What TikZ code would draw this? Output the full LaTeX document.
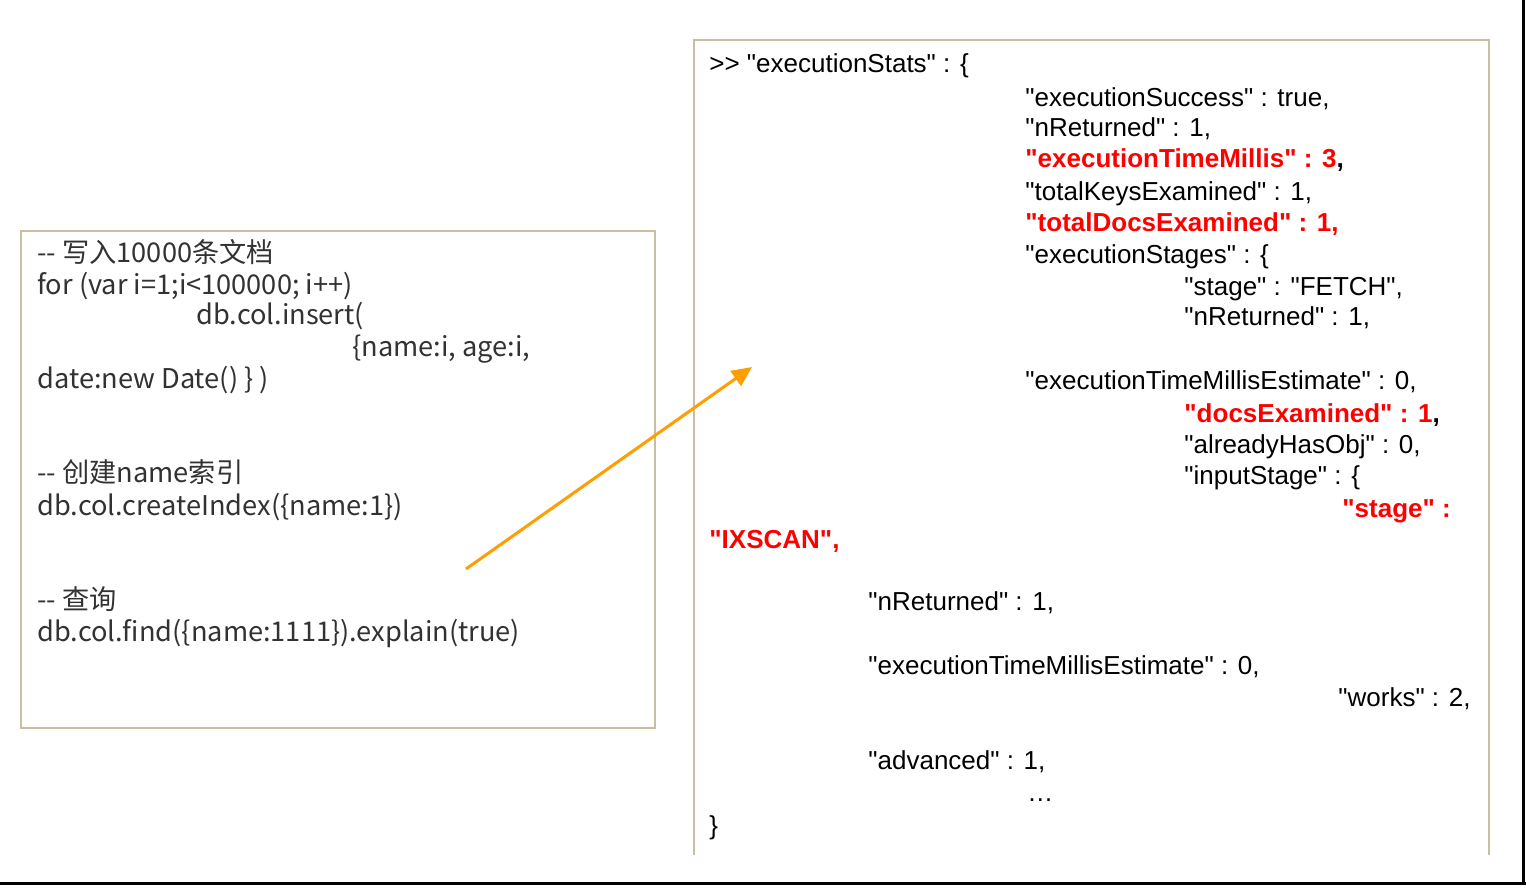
\documentclass[tikz,border=0pt]{standalone}
\usepackage{fontspec}
\newfontfamily\statfont{Liberation Sans}
\newfontfamily\cjkfont{Noto Sans CJK SC}
\usepackage{tikz}
\usetikzlibrary{arrows.meta}
\usetikzlibrary{positioning}
\definecolor{boxline}{RGB}{200,190,160}
\definecolor{codegray}{RGB}{50,50,50}
\definecolor{arroworange}{RGB}{255,158,0}
\definecolor{keyred}{RGB}{255,0,0}
\tikzset{
    codeline/.style={anchor=base west, inner sep=0pt, text=codegray, font=\cjkfont\fontsize{13.6}{15}\selectfont},
    statline/.style={anchor=base west, inner sep=0pt, font=\statfont\fontsize{13}{15}\selectfont},
    statred/.style={anchor=base west, inner sep=0pt, text=keyred, font=\statfont\bfseries\fontsize{13}{15}\selectfont}
}

\begin{document}
\begin{tikzpicture}[x=0.5pt, y=-0.5pt]
    \useasboundingbox (0,0) rectangle (1526,889);
    % frame edges
    \draw[line width=1.5pt] (0,883) -- (1526,883);
    \draw[line width=1.5pt] (1523,0) -- (1523,883);
    % left box: shell commands
    \draw[boxline, line width=1pt] (21,231) rectangle (655,728);
    \node[codeline] (cmtinsert) at (37,262) {-- 写入10000条文档};
    \node[codeline] (forloop) at (37,294) {for (var i=1;i<100000; i++)};
    \node[codeline] (insert) at (196,324) {db.col.insert(};
    \node[codeline] (doc) at (352,356) {\{name:i, age:i,};
    \node[codeline] (date) at (37,388) {date:new Date() \} )};
    \node[codeline] (cmtindex) at (37,482) {-- 创建name索引};
    \node[codeline] (createidx) at (37,515) {db.col.createIndex(\{name:1\})};
    \node[codeline] (cmtquery) at (37,609) {-- 查询};
    \node[codeline] (explain) at (37,641) {db.col.find(\{name:1111\}).explain(true)};
    % right box: explain output, open at the bottom
    \draw[boxline, line width=1pt] (694,855) -- (694,40) -- (1489,40) -- (1489,855);
    \node[statline] (stats) at (709,72) {>> "executionStats" : \{};
    \node[statline] (success) at (1025,106) {"executionSuccess" : true,};
    \node[statline] (nret) at (1025,136) {"nReturned" : 1,};
    \node[statred] (millis) at (1025,167) {"executionTimeMillis" : 3\textcolor{black}{,}};
    \node[statline] (keys) at (1025,200) {"totalKeysExamined" : 1,};
    \node[statred] (docs) at (1025,231) {"totalDocsExamined" : 1,};
    \node[statline] (stages) at (1025,263) {"executionStages" : \{};
    \node[statline] (fetch) at (1184,295) {"stage" : "FETCH",};
    \node[statline] (fetchret) at (1184,325) {"nReturned" : 1,};
    \node[statline] (fetchest) at (1025,389) {"executionTimeMillisEstimate" : 0,};
    \node[statred] (docsexam) at (1184,422) {"docsExamined" : 1\textcolor{black}{,}};
    \node[statline] (hasobj) at (1184,453) {"alreadyHasObj" : 0,};
    \node[statline] (input) at (1184,484) {"inputStage" : \{};
    \node[statred] (ixstage) at (1342,517) {"stage" :};
    \node[statred] (ixscan) at (709,548) {"IXSCAN",};
    \node[statline] (ixret) at (868,610) {"nReturned" : 1,};
    \node[statline] (ixest) at (868,674) {"executionTimeMillisEstimate" : 0,};
    \node[statline] (works) at (1338,706) {"works" : 2,};
    \node[statline] (adv) at (868,769) {"advanced" : 1,};
    \node[statline] (more) at (1027,801) {\dots};
    \node[statline] (close) at (709,834) {\}};
    % arrow from the query to its output
    \coordinate (arrowtail) at (466,569);
    \coordinate (arrowtip) at (752,367);
    \draw[arroworange, line width=1.5pt, -{Triangle[length=10pt, width=9pt]}] (arrowtail) -- (arrowtip);
\end{tikzpicture}
\end{document}
